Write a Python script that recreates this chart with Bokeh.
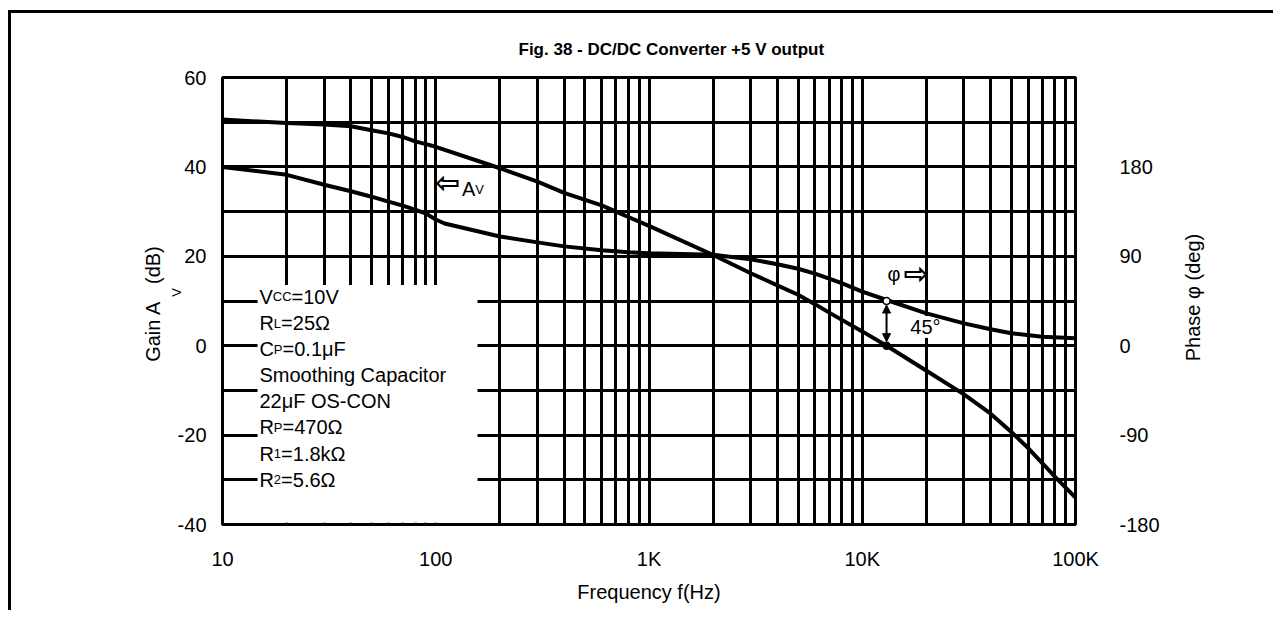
import math
from bokeh.plotting import figure
from bokeh.models import Range1d, LinearAxis, FixedTicker, Arrow, NormalHead, ColumnDataSource
from bokeh.core.properties import value
from bokeh.embed import file_html
from bokeh.resources import INLINE

FONT = "Liberation Sans"

# ---------------- texts ----------------
title_text = "Fig. 38 - DC/DC Converter +5 V output"
x_axis_title = "Frequency f(Hz)"
gain_axis_title = ["Gain A", "V", "(dB)"]   # "V" is a subscript
phase_axis_title = "Phase φ (deg)"

# ---------------- ticks ----------------
freq_ticks = [10, 100, 1000, 10000, 100000]
freq_tick_labels = ["10", "100", "1K", "10K", "100K"]
freq_minor = [20, 30, 40, 50, 60, 70, 80, 90,
              200, 300, 400, 500, 600, 700, 800, 900,
              2000, 3000, 4000, 5000, 6000, 7000, 8000, 9000,
              20000, 30000, 40000, 50000, 60000, 70000, 80000, 90000]
gain_ticks = [-40, -20, 0, 20, 40, 60]
gain_tick_labels = ["-40", "-20", "0", "20", "40", "60"]
gain_minor = [-30, -10, 10, 30, 50]
phase_ticks = [-180, -90, 0, 90, 180]
phase_tick_labels = ["-180", "-90", "0", "90", "180"]

# ---------------- data ----------------
gain_freq = [10, 20, 30, 40, 50, 60, 70, 80, 90, 100, 200, 300, 400, 600, 700, 800, 1000,
             2000, 3000, 4000, 5000, 6000, 7000, 10000, 13000, 20000, 30000, 40000,
             50000, 60000, 70000, 80000, 100000]
gain_db = [50.6, 49.8, 49.5, 49.1, 48.2, 47.5, 46.7, 45.7, 45.1, 44.5, 39.7, 36.7, 34.2, 31.4, 30.0, 28.8, 26.8,
           20.3, 16.2, 13.5, 11.4, 9.3, 7.4, 3.2, 0.0, -5.6, -10.9, -15.2,
           -19.3, -22.9, -26.3, -29.3, -34.0]

phase_freq = [10, 20, 30, 40, 50, 60, 70, 80, 90, 100, 110, 200, 300, 400, 600, 800, 1000,
              2000, 3000, 4000, 5000, 6000, 7000, 8000, 10000, 13000, 20000, 30000, 40000,
              50000, 70000, 100000]
phase_deg = [180, 172, 162, 155.5, 150, 145, 141, 137, 133, 127, 123, 110, 104, 100, 96, 94, 93,
             91.5, 87, 82, 77.5, 72.5, 67.5, 63, 54.5, 46, 32.5, 22.5, 16.5,
             12.5, 9, 7.5]

crossover_freq = 13000
phase_margin_deg = 45

legend_rows = [("V", "CC", "=10V"), ("R", "L", "=25Ω"), ("C", "P", "=0.1μF"),
               ("Smoothing Capacitor", "", ""), ("22μF OS-CON", "", ""),
               ("R", "P", "=470Ω"), ("R", "1", "=1.8kΩ"), ("R", "2", "=5.6Ω")]

# Arial-compatible advance widths (per 1000 em) used to compose mixed-size texts
ADV = {"V": 667, "C": 722, "R": 722, "A": 667, "L": 556, "P": 667, "1": 556, "2": 556,
       "G": 778, "a": 556, "i": 222, "n": 556, " ": 278, "(": 333, ")": 333, "d": 556, "B": 667,
       "h": 556, "s": 500, "e": 556, "g": 556, "φ": 600}


def tw(s, size):
    return sum(ADV.get(c, 556) for c in s) / 1000.0 * size


BIG = 20
SMALL = 13
FRAME_TOP, FRAME_BOTTOM = 77.0, 524.0   # page px of the plot area
PX_PER_DB = (FRAME_BOTTOM - FRAME_TOP) / 100.0
DEG_PER_DB = 4.5


def page_y_to_db(y):
    return 60 - (y - FRAME_TOP) / PX_PER_DB


p = figure(width=1265, height=600, x_axis_type="log",
           x_range=Range1d(10, 100000), y_range=Range1d(-40, 60),
           output_backend="svg", toolbar_location=None,
           min_border_left=211, min_border_right=201, min_border_top=64, min_border_bottom=89)
p.extra_y_ranges = {"phase": Range1d(-180, 270)}
p.styles = {"border-left": "3px solid black", "border-top": "3px solid black",
            "margin-top": "10px", "margin-left": "8px"}

p.background_fill_color = "white"
p.border_fill_color = "white"
p.outline_line_color = "black"
p.outline_line_width = 3
p.outline_line_alpha = 1

# title
p.title.text = title_text
p.title.text_font = FONT
p.title.text_font_size = "17px"
p.title.text_font_style = "bold"
p.title.text_color = "black"
p.title.align = "left"
p.title.offset = 296
p.title.standoff = 38

# x axis
xt = FixedTicker(ticks=freq_ticks, minor_ticks=freq_minor)
p.xaxis.ticker = xt
p.xgrid.ticker = xt
p.xaxis.major_label_overrides = {t: l for t, l in zip(freq_ticks, freq_tick_labels)}
p.xaxis.axis_label = x_axis_title
p.xaxis.axis_label_standoff = 8
p.xaxis.major_label_standoff = 23

# left axis
yt = FixedTicker(ticks=gain_ticks, minor_ticks=gain_minor)
p.yaxis.ticker = yt
p.ygrid.ticker = yt
p.yaxis.major_label_overrides = {t: l for t, l in zip(gain_ticks, gain_tick_labels)}
p.yaxis.major_label_standoff = 16

# left title "Gain A_V (dB)": rotated labels end at their tick, so ticks mark each piece's top end
gap = 4.0
w1, w2, w3 = tw(gain_axis_title[0], BIG), tw(gain_axis_title[1], SMALL), tw(gain_axis_title[2], BIG)
total = w1 + gap + w2 + gap + w3
bottom_db = page_y_to_db(303.5 + total / 2)
pos_main1 = bottom_db + w1 / PX_PER_DB
pos_sub = bottom_db + (w1 + gap + w2) / PX_PER_DB
pos_main2 = bottom_db + total / PX_PER_DB

lsub = LinearAxis(ticker=FixedTicker(ticks=[pos_sub]))
lsub.major_label_overrides = {pos_sub: gain_axis_title[1]}
lsub.major_label_orientation = math.pi / 2
lsub.major_label_standoff = -2
p.add_layout(lsub, "left")

lmain = LinearAxis(ticker=FixedTicker(ticks=[pos_main1, pos_main2]))
lmain.major_label_overrides = {pos_main1: gain_axis_title[0], pos_main2: gain_axis_title[2]}
lmain.major_label_orientation = math.pi / 2
lmain.major_label_standoff = 5
p.add_layout(lmain, "left")

# right axis (phase)
rax = LinearAxis(y_range_name="phase", ticker=FixedTicker(ticks=phase_ticks))
rax.major_label_overrides = {t: l for t, l in zip(phase_ticks, phase_tick_labels)}
rax.major_label_standoff = 44
p.add_layout(rax, "right")

# right-hand title, written bottom-to-top; the rotated label starts at its tick
phase_title_pos = page_y_to_db(297.5 + tw(phase_axis_title, BIG) / 2) * DEG_PER_DB
rtitle = LinearAxis(y_range_name="phase", ticker=FixedTicker(ticks=[phase_title_pos]))
rtitle.major_label_overrides = {phase_title_pos: phase_axis_title}
rtitle.major_label_orientation = math.pi / 2
rtitle.major_label_standoff = 30
p.add_layout(rtitle, "right")

for ax in [p.xaxis[0], p.yaxis[0], rax, rtitle, lsub, lmain]:
    ax.axis_line_color = None
    ax.major_tick_line_color = None
    ax.minor_tick_line_color = None
    ax.major_tick_out = 0
    ax.major_tick_in = 0
    ax.minor_tick_out = 0
    ax.minor_tick_in = 0
    ax.major_label_text_font = FONT
    ax.major_label_text_font_size = "20px"
    ax.major_label_text_color = "black"
    ax.axis_label_text_font = FONT
    ax.axis_label_text_font_size = "20px"
    ax.axis_label_text_font_style = "normal"
    ax.axis_label_text_color = "black"
lsub.major_label_text_font_size = "13px"

for g in [p.xgrid[0], p.ygrid[0]]:
    g.grid_line_color = "black"
    g.grid_line_width = 3
    g.grid_line_alpha = 1
    g.minor_grid_line_color = "black"
    g.minor_grid_line_width = 3
    g.minor_grid_line_alpha = 1

# white panel behind the conditions text
p.quad(left=[14.6], right=[157], bottom=[-39.6], top=[13.6], fill_color="white", line_color=None)

# "45°" with white background (drawn under the curves)
p.text(x=[16800], y=[4.2], text=["45°"], text_font=value(FONT), text_font_size="20px",
       text_align="left", text_baseline="middle", text_color="black",
       background_fill_color="white")

# curves
p.line(gain_freq, gain_db, line_color="black", line_width=4)
p.line(phase_freq, phase_deg, y_range_name="phase", line_color="black", line_width=4)

# phase-margin markers
p.add_layout(Arrow(x_start=crossover_freq, y_start=0.9, x_end=crossover_freq, y_end=9.1,
                   start=NormalHead(size=8, fill_color="black", line_color="black"),
                   end=NormalHead(size=8, fill_color="black", line_color="black"),
                   line_width=2, line_color="black"))
p.scatter(x=[crossover_freq], y=[0], size=7, marker="circle", fill_color="black",
          line_color="black", line_width=1.5)
p.scatter(x=[crossover_freq], y=[phase_margin_deg], y_range_name="phase", size=7,
          marker="circle", fill_color="white", line_color="black", line_width=1.5)

# conditions text
LH = 26.1
big_t, big_xo, big_yo = [], [], []
sm_t, sm_xo, sm_yo = [], [], []
for i, (a, b, c) in enumerate(legend_rows):
    big_t.append(a); big_xo.append(0); big_yo.append(i * LH)
    if b:
        sm_t.append(b); sm_xo.append(tw(a, BIG)); sm_yo.append(i * LH)
        big_t.append(c); big_xo.append(tw(a, BIG) + tw(b, SMALL)); big_yo.append(i * LH)
p.text(x="x", y="y", text="t", x_offset="xo", y_offset="yo",
       source=ColumnDataSource(dict(x=[14.9] * len(big_t), y=[10.9] * len(big_t),
                                    t=big_t, xo=big_xo, yo=big_yo)),
       text_font=value(FONT), text_font_size="20px", text_color="black",
       text_align="left", text_baseline="alphabetic")
p.text(x="x", y="y", text="t", x_offset="xo", y_offset="yo",
       source=ColumnDataSource(dict(x=[14.9] * len(sm_t), y=[10.9] * len(sm_t),
                                    t=sm_t, xo=sm_xo, yo=sm_yo)),
       text_font=value(FONT), text_font_size="13px", text_color="black",
       text_align="left", text_baseline="alphabetic")

# "⇦ Av" pointer
p.text(x=[114], y=[36.6], text=["⇦"], text_font=value("DejaVu Sans"), text_font_size="30px",
       text_font_style="bold", text_align="center", text_baseline="middle", text_color="black")
p.text(x=[114, 114], y=[35.0, 35.0], text=["A", "V"], x_offset=[14, 14 + tw("A", BIG)],
       text_font=value(FONT), text_font_size=["20px", "13px"], text_align="left",
       text_baseline="alphabetic", text_color="black")

# "φ ⇨" pointer
p.text(x=[14100], y=[16.1], text=["φ"], text_font=value(FONT), text_font_size="20px",
       text_align="center", text_baseline="middle", text_color="black")
p.text(x=[17900], y=[16.1], text=["⇨"], text_font=value("DejaVu Sans"), text_font_size="30px",
       text_font_style="bold", text_align="center", text_baseline="middle", text_color="black")

open("out.html", "w").write(file_html(p, INLINE))
